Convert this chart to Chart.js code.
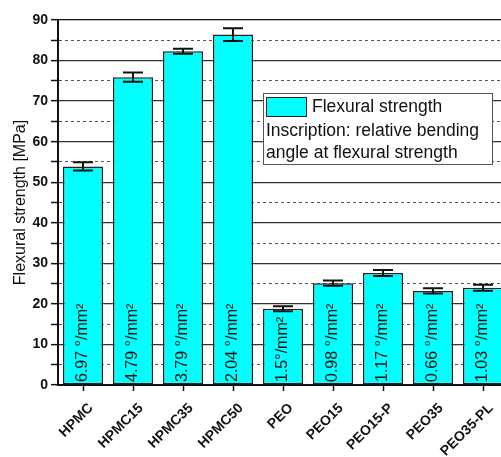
<!DOCTYPE html>
<html>
<head>
<meta charset="utf-8">
<script src="https://cdn.jsdelivr.net/npm/chart.js@4.4.1/dist/chart.umd.min.js"></script>
<style>
  html, body { margin: 0; padding: 0; background: #fff; overflow: hidden; }
  #wrap { width: 510px; height: 457px; }
</style>
</head>
<body>
<div id="wrap"><canvas id="c" width="510" height="457"></canvas></div>
<script>
// Sample groups
const categories = ['HPMC', 'HPMC15', 'HPMC35', 'HPMC50', 'PEO', 'PEO15', 'PEO15-P', 'PEO35', 'PEO35-PL'];
// Mean flexural strength [MPa]
const strength = [53.9, 75.9, 82.3, 86.4, 18.8, 25.1, 27.6, 23.2, 24.0];
// Standard deviation of flexural strength [MPa]
const strengthErr = [1.0, 1.15, 0.6, 1.55, 0.6, 0.65, 0.75, 0.65, 0.75];
// Relative bending angle at flexural strength, printed inside each bar
const angleLabels = ['6.97 °/mm²', '4.79 °/mm²', '3.79 °/mm²', '2.04 °/mm²', '1.5°/mm²', '0.98 °/mm²', '1.17 °/mm²', '0.66 °/mm²', '1.03 °/mm²'];
// Legend texts
const legendLines = ['Flexural strength', 'Inscription: relative bending', 'angle at flexural strength'];

const FONT = 'Arial, "Liberation Sans", Helvetica, sans-serif';
const CYAN = '#00ffff';

// Error bars with caps
const errorBars = {
  id: 'errorBars',
  afterDatasetsDraw(chart) {
    const ctx = chart.ctx;
    const ys = chart.scales.y;
    const meta = chart.getDatasetMeta(0);
    ctx.save();
    ctx.strokeStyle = '#111';
    ctx.lineWidth = 2;
    meta.data.forEach((bar, i) => {
      const x = bar.x;
      const top = ys.getPixelForValue(strength[i] + strengthErr[i]);
      const bot = ys.getPixelForValue(strength[i] - strengthErr[i]);
      ctx.beginPath();
      ctx.moveTo(x, top); ctx.lineTo(x, bot);
      ctx.moveTo(x - 10, top); ctx.lineTo(x + 10, top);
      ctx.moveTo(x - 10, bot); ctx.lineTo(x + 10, bot);
      ctx.stroke();
    });
    ctx.restore();
  }
};

// Vertical angle inscriptions inside the bars
const inscriptions = {
  id: 'inscriptions',
  afterDatasetsDraw(chart) {
    const ctx = chart.ctx;
    const meta = chart.getDatasetMeta(0);
    const base = chart.scales.y.getPixelForValue(0);
    ctx.save();
    ctx.fillStyle = '#111';
    ctx.font = '16px ' + FONT;
    ctx.textAlign = 'left';
    ctx.textBaseline = 'middle';
    meta.data.forEach((bar, i) => {
      ctx.save();
      ctx.translate(bar.x, base - 3);
      ctx.rotate(-Math.PI / 2);
      ctx.fillText(angleLabels[i], 0, 0);
      ctx.restore();
    });
    ctx.restore();
  }
};

// Legend box inside the plot
const legendBox = {
  id: 'legendBox',
  afterDraw(chart) {
    const ctx = chart.ctx;
    const a = chart.chartArea;
    const x0 = a.left + 205, y0 = a.top + 73, w = 229, h = 71;
    ctx.save();
    ctx.fillStyle = '#fff';
    ctx.fillRect(x0, y0, w, h);
    ctx.strokeStyle = '#555';
    ctx.lineWidth = 1;
    ctx.strokeRect(x0 + 0.5, y0 + 0.5, w, h);
    ctx.fillStyle = CYAN;
    ctx.fillRect(x0 + 3, y0 + 4, 40, 19);
    ctx.strokeStyle = '#222';
    ctx.strokeRect(x0 + 3.5, y0 + 4.5, 40, 19);
    ctx.fillStyle = '#111';
    ctx.font = '17.5px ' + FONT;
    ctx.textBaseline = 'alphabetic';
    ctx.textAlign = 'left';
    ctx.fillText(legendLines[0], x0 + 49, y0 + 19);
    ctx.fillText(legendLines[1], x0 + 3, y0 + 43);
    ctx.fillText(legendLines[2], x0 + 3, y0 + 65);
    ctx.restore();
  }
};

new Chart(document.getElementById('c'), {
  type: 'bar',
  data: {
    labels: categories,
    datasets: [{
      label: legendLines[0],
      data: strength,
      backgroundColor: CYAN,
      borderColor: '#222',
      borderWidth: 1.5,
      borderSkipped: false,
      barPercentage: 0.8,
      categoryPercentage: 1.0
    }]
  },
  options: {
    responsive: false,
    animation: false,
    devicePixelRatio: 1,
    layout: { padding: { top: 20, right: 2, bottom: 0, left: 0 } },
    plugins: { legend: { display: false }, tooltip: { enabled: false } },
    scales: {
      x: {
        offset: true,
        afterFit(s) { s.height = 72; },
        grid: {
          offset: false,
          drawOnChartArea: false,
          drawTicks: true,
          tickLength: 6,
          tickColor: '#111',
          tickWidth: 1.5
        },
        border: { display: true, color: '#111', width: 2 },
        ticks: {
          color: '#111',
          font: { family: FONT, size: 14, weight: 'bold' },
          minRotation: 45,
          maxRotation: 45,
          autoSkip: false,
          padding: 9,
          labelOffset: 8
        }
      },
      y: {
        min: 0,
        max: 90,
        afterFit(s) { s.width = 58; },
        title: {
          display: true,
          text: 'Flexural strength [MPa]',
          color: '#111',
          font: { family: FONT, size: 16 },
          padding: { top: 11, bottom: 0 }
        },
        grid: {
          color: (c) => (c.tick && c.tick.value === 90) ? '#111' : (c.tick && c.tick.value % 10 === 0 ? '#333' : '#555'),
          lineWidth: (c) => (c.tick && c.tick.value % 10 === 0) ? 1.3 : 1,
          tickLength: 7,
          tickColor: '#111',
          tickWidth: 1.5
        },
        border: {
          display: true,
          color: '#111',
          width: 2,
          dash: (c) => (c.tick && c.tick.value % 10 !== 0) ? [3, 3] : []
        },
        ticks: {
          stepSize: 5,
          color: '#111',
          font: { family: FONT, size: 14, weight: 'bold' },
          padding: 3,
          callback: (v) => (v % 10 === 0 ? v : '')
        }
      }
    }
  },
  plugins: [errorBars, inscriptions, legendBox]
});
</script>
</body>
</html>
